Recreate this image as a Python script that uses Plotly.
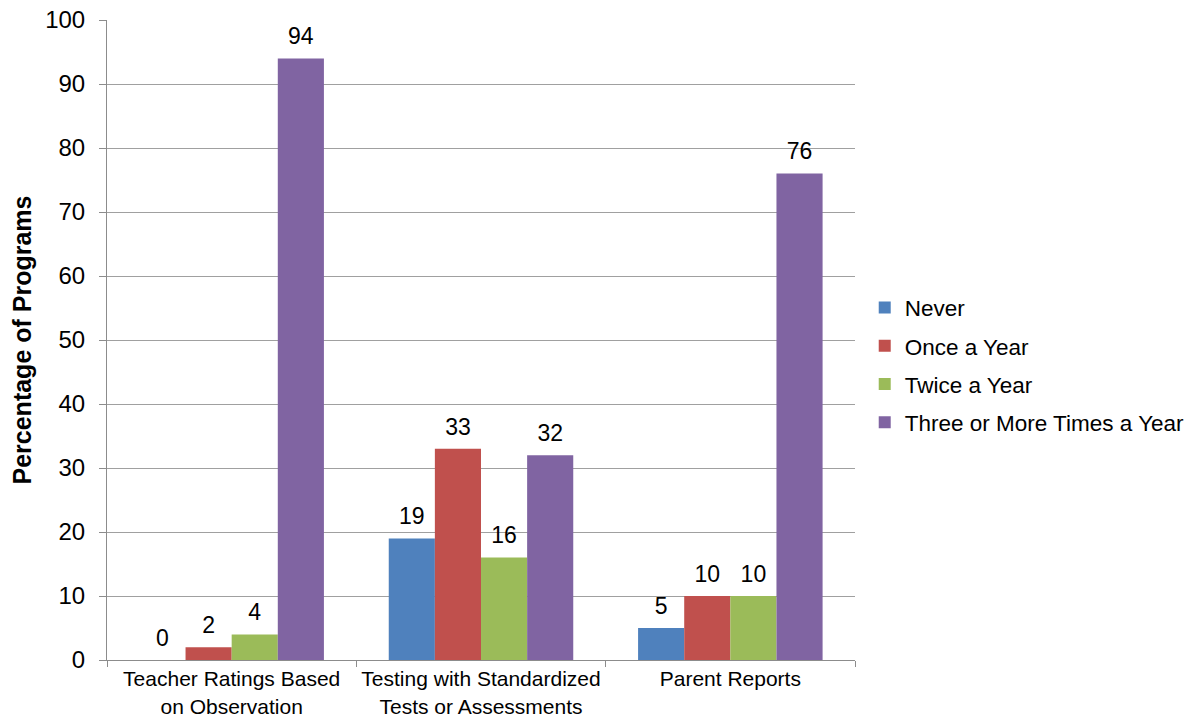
import plotly.graph_objects as go

categories = [
    "Teacher Ratings Based<br>on Observation",
    "Testing with Standardized<br>Tests or Assessments",
    "Parent Reports",
]
series_names = ["Never", "Once a Year", "Twice a Year", "Three or More Times a Year"]
never = [0, 19, 5]
once_a_year = [2, 33, 10]
twice_a_year = [4, 16, 10]
three_or_more = [94, 32, 76]
colors = ["#4F81BD", "#C0504D", "#9BBB59", "#8064A2"]
y_ticks = [0, 10, 20, 30, 40, 50, 60, 70, 80, 90, 100]

font_family = "Liberation Sans, Arial, sans-serif"
axis_grey = "#8C8C8C"
grid_grey = "#A0A0A0"
gap = 0.26

all_series = [never, once_a_year, twice_a_year, three_or_more]

fig = go.Figure()
for i, (name, vals) in enumerate(zip(series_names, all_series)):
    fig.add_trace(go.Bar(
        x=categories, y=vals, name=name,
        marker=dict(color=colors[i], line=dict(width=0)),
        legendgroup=name,
    ))

# value labels, grouped alongside the bars; the invisible marker sets the label clearance
for i, (name, vals) in enumerate(zip(series_names, all_series)):
    fig.add_trace(go.Scatter(
        x=categories, y=vals, mode="markers+text",
        marker=dict(size=12, opacity=0, color=colors[i]),
        text=[str(v) for v in vals], textposition="top center",
        textfont=dict(size=23, color="#000000", family=font_family),
        cliponaxis=False, showlegend=False, hoverinfo="skip",
    ))

fig.update_layout(
    width=1193, height=721,
    margin=dict(l=107, r=338, t=20, b=61, autoexpand=False),
    paper_bgcolor="white", plot_bgcolor="white",
    barmode="group", bargap=gap, bargroupgap=0,
    scattermode="group", scattergap=gap,
    font=dict(family=font_family, color="#000000"),
    showlegend=True,
    legend=dict(
        x=1.013, xanchor="left", y=0.461, yanchor="middle",
        font=dict(size=22.5, family=font_family),
        tracegroupgap=6, bgcolor="rgba(0,0,0,0)",
    ),
    xaxis=dict(
        type="category", automargin=False,
        showline=True, linecolor=axis_grey, linewidth=1,
        ticks="outside", tickson="boundaries", ticklen=6, tickcolor=axis_grey,
        tickfont=dict(size=21), showgrid=False, ticklabelstandoff=0,
    ),
    yaxis=dict(
        range=[0, 100], tickvals=y_ticks, automargin=False,
        showline=True, linecolor=axis_grey, linewidth=1,
        ticks="outside", ticklen=7, tickcolor=axis_grey,
        showgrid=True, gridcolor=grid_grey, gridwidth=1,
        tickfont=dict(size=24), zeroline=False, ticklabelstandoff=9,
        title=dict(text="<b>Percentage of Programs</b>", font=dict(size=25), standoff=6),
    ),
)

fig.write_html("out.html")
